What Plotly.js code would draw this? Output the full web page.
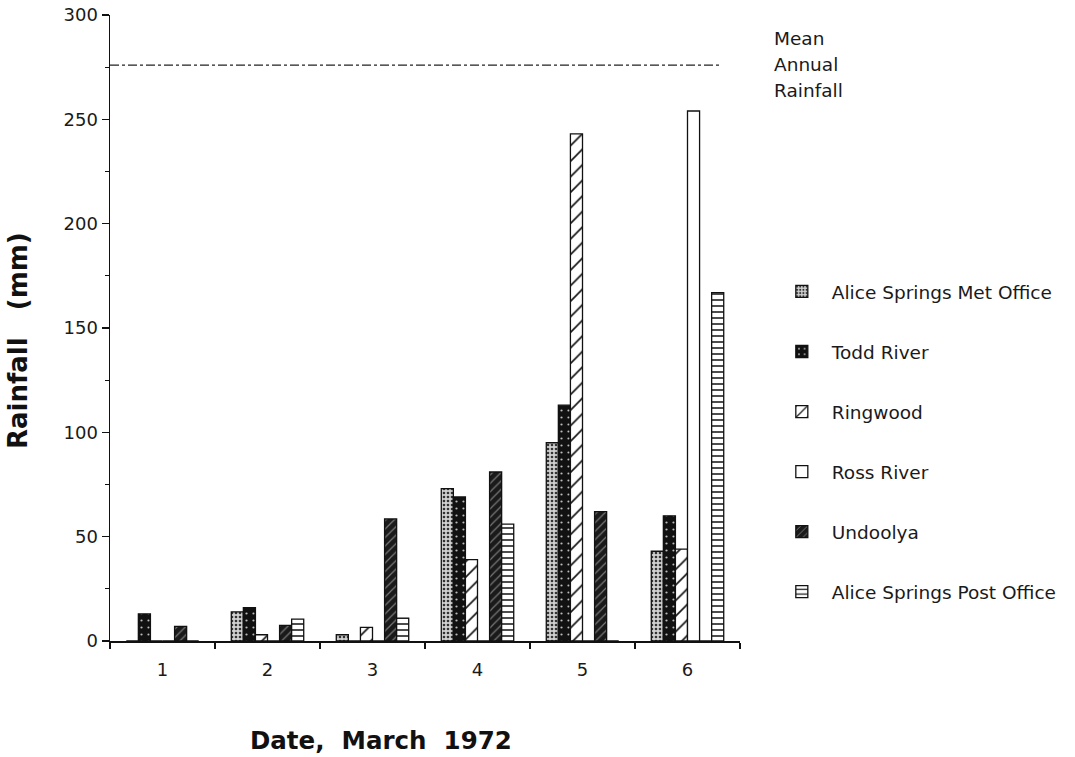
<!DOCTYPE html>
<html>
<head>
<meta charset="utf-8">
<script src="https://cdn.plot.ly/plotly-3.0.1.min.js"></script>
<style>html,body{margin:0;padding:0;background:#fff;}#chart{width:1075px;height:757px;}</style>
</head>
<body>
<div id="chart"></div>
<script>
const dates = ["1", "2", "3", "4", "5", "6"];
const metOffice = [0, 14, 3, 73, 95, 43];
const toddRiver = [13, 16, 0, 69, 113, 60];
const ringwood = [0, 3, 6.5, 39, 243, 44];
const rossRiver = [0, 0, 0, 0, 0, 254];
const undoolya = [7, 7.5, 58.5, 81, 62, 0];
const postOffice = [0, 10.5, 11, 56, 0, 167];
const meanAnnualRainfall = 276;
const yTicks = [0, 50, 100, 150, 200, 250, 300];

const FONT = "DejaVu Sans, Liberation Sans, Arial, sans-serif";
const lineStyle = {color: "#111", width: 1.3};

function bar(name, values, pattern, color, group) {
  return {
    type: "bar", name: name, x: dates, y: values,
    legendgroup: group,
    marker: {color: color, line: lineStyle, pattern: pattern},
    hoverinfo: "x+y+name"
  };
}

const traces = [
  bar("Alice Springs Met Office", metOffice,
      {shape: ".", fgcolor: "#333", bgcolor: "#d0d0d0", size: 4, solidity: 0.35}, "#d0d0d0", "g1"),
  bar("Todd River", toddRiver,
      {shape: ".", fgcolor: "#bbb", bgcolor: "#111", size: 7, solidity: 0.08}, "#111", "g2"),
  bar("Ringwood", ringwood,
      {shape: "/", fgcolor: "#111", bgcolor: "#fff", size: 11, solidity: 0.15}, "#fff", "g3"),
  bar("Ross River", rossRiver, {shape: ""}, "#fff", "g4"),
  bar("Undoolya", undoolya,
      {shape: "/", fgcolor: "#777", bgcolor: "#1a1a1a", size: 6, solidity: 0.2}, "#1a1a1a", "g5"),
  bar("Alice Springs Post Office", postOffice,
      {shape: "-", fgcolor: "#111", bgcolor: "#fff", size: 6, solidity: 0.25}, "#fff", "g6")
];

const layout = {
  width: 1075, height: 757,
  margin: {l: 110, r: 335, t: 15, b: 116},
  paper_bgcolor: "#fff", plot_bgcolor: "#fff",
  font: {family: FONT, size: 18, color: "#1a1a1a"},
  barmode: "group", bargap: 0.31, bargroupgap: 0,
  showlegend: true,
  legend: {
    x: 1.0505, xanchor: "left", y: 0.588, yanchor: "top",
    font: {family: FONT, size: 18.5, color: "#1a1a1a"},
    traceorder: "grouped", tracegroupgap: 33, itemwidth: 50,
    bgcolor: "rgba(0,0,0,0)"
  },
  xaxis: {
    type: "category", categoryorder: "array", categoryarray: dates,
    range: [-0.5, 5.5],
    tickson: "boundaries", ticks: "outside", ticklen: 6, tickwidth: 1.3, tickcolor: "#111",
    ticklabelstandoff: 12,
    showline: true, linecolor: "#111", linewidth: 1.5,
    showgrid: false, zeroline: false,
    tickfont: {family: FONT, size: 18}
  },
  yaxis: {
    range: [0, 300], tickmode: "array", tickvals: yTicks,
    ticks: "outside", ticklen: 7, tickwidth: 1.3, tickcolor: "#111",
    minor: {dtick: 25, tick0: 0, ticks: "outside", ticklen: 4, tickwidth: 1.2, tickcolor: "#111", showgrid: false},
    showline: true, linecolor: "#111", linewidth: 1.5,
    showgrid: false, zeroline: false,
    tickfont: {family: FONT, size: 18}
  },
  shapes: [{
    type: "line", xref: "paper", yref: "y",
    x0: 0, x1: 0.971, y0: meanAnnualRainfall, y1: meanAnnualRainfall,
    line: {color: "#222", width: 1.3, dash: "dashdot"}
  }],
  annotations: [
    {text: "Mean", xref: "paper", yref: "y", x: 1.05, y: 288.8, xanchor: "left", yanchor: "middle", showarrow: false, font: {family: FONT, size: 18.5}},
    {text: "Annual", xref: "paper", yref: "y", x: 1.05, y: 276.3, xanchor: "left", yanchor: "middle", showarrow: false, font: {family: FONT, size: 18.5}},
    {text: "Rainfall", xref: "paper", yref: "y", x: 1.05, y: 263.9, xanchor: "left", yanchor: "middle", showarrow: false, font: {family: FONT, size: 18.5}},
    {text: "Rainfall   (mm)", xref: "paper", yref: "paper", x: -0.1468, y: 0.48, textangle: -90,
     xanchor: "center", yanchor: "middle", showarrow: false, font: {family: FONT, size: 26, color: "#111", weight: "bold"}},
    {text: "Date,  March  1972", xref: "paper", yref: "paper", x: 0.430, y: -0.1597,
     xanchor: "center", yanchor: "middle", showarrow: false, font: {family: FONT, size: 24.5, color: "#111", weight: "bold"}}
  ]
};

Plotly.newPlot("chart", traces, layout, {displayModeBar: false, staticPlot: true});
</script>
</body>
</html>
